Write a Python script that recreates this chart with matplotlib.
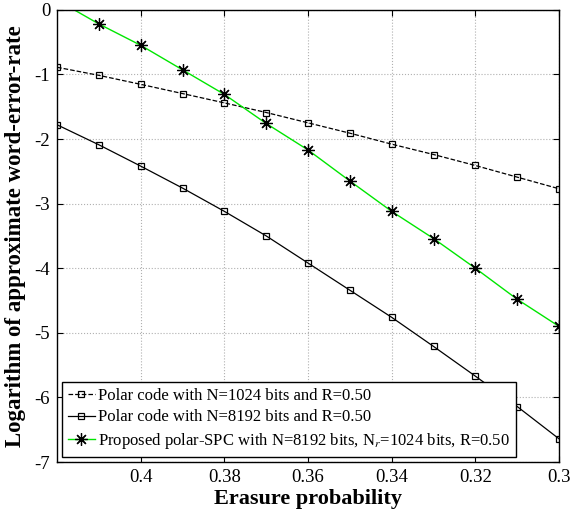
import numpy as np
import matplotlib.pyplot as plt

plt.rcParams['font.family'] = ['Liberation Serif', 'DejaVu Serif']
plt.rcParams['mathtext.fontset'] = 'stix'
plt.rcParams['axes.unicode_minus'] = False

p = [0.42, 0.41, 0.40, 0.39, 0.38, 0.37, 0.36, 0.35, 0.34, 0.33, 0.32, 0.31, 0.30]
polar_1024 = [-0.89, -1.015, -1.154, -1.297, -1.441, -1.59, -1.75, -1.91, -2.08, -2.24, -2.41, -2.59, -2.77]
polar_8192 = [-1.78, -2.09, -2.42, -2.76, -3.12, -3.50, -3.92, -4.34, -4.76, -5.21, -5.67, -6.14, -6.64]
polar_spc = [0.15, -0.22, -0.55, -0.93, -1.31, -1.76, -2.17, -2.65, -3.12, -3.54, -4.00, -4.48, -4.90]

fig = plt.figure(figsize=(5.71, 5.14), dpi=100)
ax = fig.add_axes([0.1, 0.101, 0.879, 0.880])

ax.plot(p, polar_1024, 'k--s', lw=0.9, ms=5, mfc='none', mew=0.9,
        label='Polar code with N=1024 bits and R=0.50')
ax.plot(p, polar_8192, 'k-s', lw=0.9, ms=5, mfc='none', mew=0.9,
        label='Polar code with N=8192 bits and R=0.50')
ax.plot(p, polar_spc, '-', color='#00e600', lw=1.0, marker=(8, 2, 0), ms=9,
        mec='k', mfc='k', mew=0.9,
        label='Proposed polar-SPC with N=8192 bits, N$_r$=1024 bits, R=0.50')

ax.set_xlim(0.42, 0.30)
ax.set_ylim(-7, 0)
ax.set_xticks([0.4, 0.38, 0.36, 0.34, 0.32, 0.3])
ax.set_xticklabels(['0.4', '0.38', '0.36', '0.34', '0.32', '0.3'])
ax.set_yticks(range(-7, 1))
ax.tick_params(direction='in', top=True, right=True, labelsize=13.5, length=4, pad=5)
ax.grid(True, ls=':', color='#b0b0b0', lw=0.8)
for s in ax.spines.values():
    s.set_linewidth(1.0)

ax.set_xlabel('Erasure probability', fontsize=16, fontweight='bold', labelpad=2)
ax.set_ylabel('Logarithm of approximate word-error-rate', fontsize=16.5, fontweight='bold',
              labelpad=6)

leg = ax.legend(loc='lower left', fontsize=12, fancybox=False, edgecolor='k',
                framealpha=1, borderpad=0.35, labelspacing=0.35, handlelength=1.6,
                handletextpad=0.2, borderaxespad=0.3)
leg.get_frame().set_linewidth(1.0)

fig.savefig('out.png', dpi=100)
